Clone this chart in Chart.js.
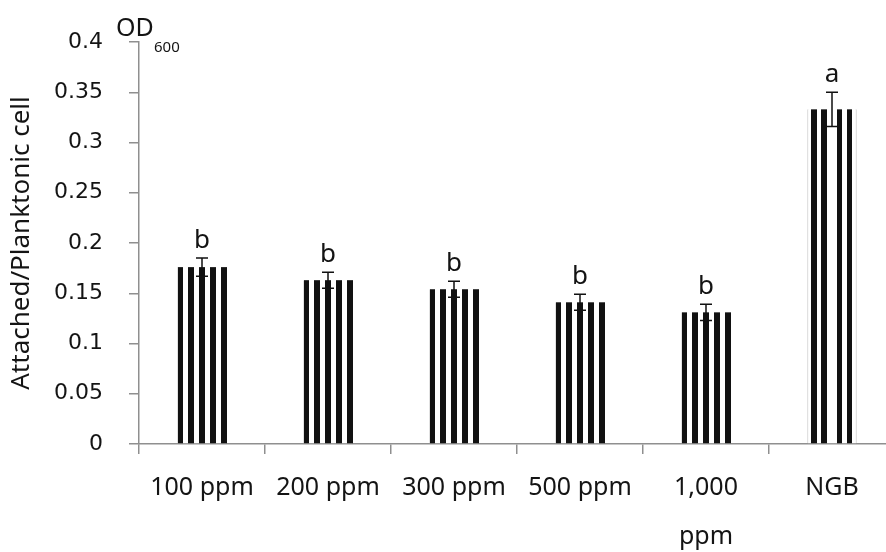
<!DOCTYPE html>
<html>
<head>
<meta charset="utf-8">
<title>OD600 attached / planktonic</title>
<script src="https://cdn.jsdelivr.net/npm/chart.js@4.4.1/dist/chart.umd.min.js"></script>
<style>
  html, body { margin: 0; padding: 0; background: #fff; overflow: hidden; }
  #wrap { width: 895px; height: 552px; position: relative; }
</style>
</head>
<body>
<div id="wrap"><canvas id="odChart"></canvas></div>
<script>
// treatment groups on the x axis
const categories = ["100 ppm", "200 ppm", "300 ppm", "500 ppm", ["1,000", "ppm"], "NGB"];
// mean OD600 ratio and its error
const odMeans = [0.176, 0.163, 0.154, 0.141, 0.131, 0.333];
const odErrors = [0.009, 0.008, 0.008, 0.008, 0.008, 0.017];
// significance letters over each bar
const groupLetters = ["b", "b", "b", "b", "b", "a"];
const yTickValues = [0, 0.05, 0.1, 0.15, 0.2, 0.25, 0.3, 0.35, 0.4];
const yTickLabels = ["0", "0.05", "0.1", "0.15", "0.2", "0.25", "0.3", "0.35", "0.4"];

const axisGrey = "#8f8f8f";
const inkColor = "#141414";
const fontFamily = "'Noto Sans', sans-serif";

// vertical black stripes inside each bar, as fractions of bar width
function stripesFor(index) {
  if (index === 5) {
    return [[0.08, 0.19], [0.28, 0.39], [0.6, 0.71], [0.8, 0.91]];
  }
  const out = [];
  for (let k = 0; k < 9; k += 2) out.push([k / 9 - 0.01, (k + 1) / 9 + 0.01]);
  return out;
}

const stripesAndErrors = {
  id: "stripesAndErrors",
  afterDatasetsDraw(chart) {
    const ctx = chart.ctx;
    const y = chart.scales.y;
    const meta = chart.getDatasetMeta(0);
    ctx.save();
    meta.data.forEach((bar, i) => {
      const left = bar.x - bar.width / 2;
      const w = bar.width;
      ctx.fillStyle = "#111";
      stripesFor(i).forEach(([a, b]) => {
        const x0 = Math.round(left + Math.max(a, 0) * w);
        const x1 = Math.round(left + Math.min(b, 1) * w);
        ctx.fillRect(x0, bar.y, x1 - x0, bar.base - bar.y);
      });

      // error bar with caps
      const top = y.getPixelForValue(odMeans[i] + odErrors[i]);
      const bottom = y.getPixelForValue(odMeans[i] - odErrors[i]);
      ctx.strokeStyle = "#111";
      ctx.lineWidth = 1.5;
      ctx.beginPath();
      ctx.moveTo(bar.x, top);
      ctx.lineTo(bar.x, bottom);
      ctx.moveTo(bar.x - 6, top);
      ctx.lineTo(bar.x + 6, top);
      ctx.moveTo(bar.x - 6, bottom);
      ctx.lineTo(bar.x + 6, bottom);
      ctx.stroke();

      // letter above
      ctx.fillStyle = inkColor;
      ctx.font = "26px " + fontFamily;
      ctx.textAlign = "center";
      ctx.textBaseline = "alphabetic";
      ctx.fillText(groupLetters[i], bar.x, top - 10);
    });

    // OD600 unit on top of the y axis
    ctx.fillStyle = inkColor;
    ctx.textAlign = "left";
    ctx.font = "25px " + fontFamily;
    ctx.fillText("OD", 116, 36);
    ctx.font = "15px " + fontFamily;
    ctx.fillText("600", 154, 52);
    ctx.restore();
  }
};

new Chart(document.getElementById("odChart"), {
  type: "bar",
  data: {
    labels: categories,
    datasets: [{
      data: odMeans,
      backgroundColor: "#ffffff",
      borderColor: "#d4d4d4",
      borderWidth: { left: 1, right: 1, top: 0, bottom: 0 },
      barThickness: 49
    }]
  },
  options: {
    responsive: true,
    maintainAspectRatio: false,
    animation: false,
    layout: { padding: { top: 42, right: 0, left: 0, bottom: 0 } },
    plugins: {
      legend: { display: false },
      tooltip: { enabled: false }
    },
    scales: {
      x: {
        offset: true,
        grid: {
          offset: true,
          drawOnChartArea: false,
          drawTicks: true,
          tickLength: 10,
          color: axisGrey,
          lineWidth: 1.5
        },
        border: { color: axisGrey, width: 1.5 },
        ticks: {
          color: inkColor,
          padding: 9,
          maxRotation: 0,
          autoSkip: false,
          font: { family: fontFamily, size: 25, lineHeight: 1.96 }
        },
        afterFit(scale) { scale.height = 108; }
      },
      y: {
        min: 0,
        max: 0.4,
        afterBuildTicks(scale) {
          scale.ticks = yTickValues.map(v => ({ value: v }));
        },
        grid: {
          drawOnChartArea: false,
          drawTicks: true,
          tickLength: 10,
          color: axisGrey,
          lineWidth: 1.5
        },
        border: { color: axisGrey, width: 1.5 },
        ticks: {
          color: inkColor,
          padding: 26,
          font: { family: "'DejaVu Sans', sans-serif", size: 22 },
          callback: (v, i) => yTickLabels[i]
        },
        title: {
          display: true,
          text: "Attached/Planktonic cell",
          color: inkColor,
          font: { family: fontFamily, size: 26 },
          padding: { top: 6, bottom: 0 }
        },
        afterFit(scale) { scale.width = 139; }
      }
    }
  },
  plugins: [stripesAndErrors]
});
</script>
</body>
</html>
